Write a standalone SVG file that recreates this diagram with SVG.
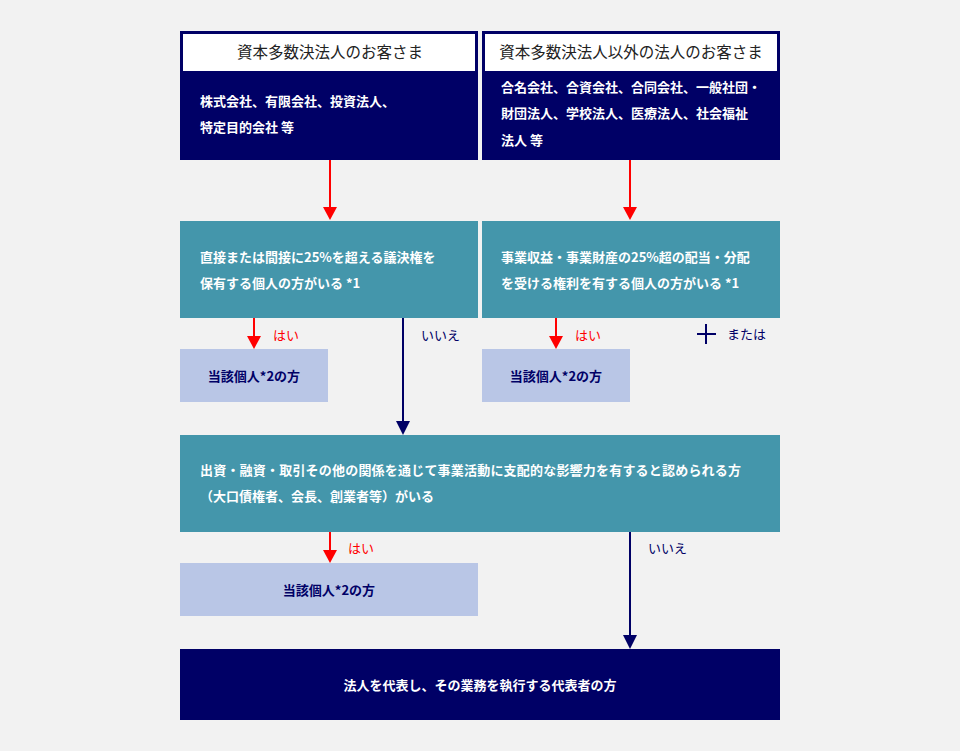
<svg xmlns="http://www.w3.org/2000/svg" width="960" height="751" viewBox="0 0 960 751">
<style>
text{font-family:"Noto Sans CJK JP","Noto Sans CJK SC",sans-serif}
.navy{fill:#000066}
.teal{fill:#4496ab}
.light{fill:#b9c6e6}
.wt{fill:#ffffff;font-size:13px;font-weight:bold}
.hd{fill:#222222;font-size:15.5px}
.nt{fill:#000066;font-size:13px;font-weight:bold}
.yes{fill:#ff0000;font-size:13px}
.no{fill:#000066;font-size:13px}
.rl{stroke:#ff0000;stroke-width:2;fill:none}
.nl{stroke:#000066;stroke-width:2;fill:none}
</style>
<rect width="960" height="751" fill="#f2f2f2"/>
<g id="connectors">
<line class="rl" x1="330" y1="160" x2="330" y2="208"/>
<path d="M323,207 L337,207 L330,220 Z" fill="#ff0000"/>
<line class="rl" x1="630" y1="160" x2="630" y2="208"/>
<path d="M623,207 L637,207 L630,220 Z" fill="#ff0000"/>
<line class="rl" x1="254" y1="318" x2="254" y2="337"/>
<path d="M247,336 L261,336 L254,349 Z" fill="#ff0000"/>
<line class="rl" x1="556" y1="318" x2="556" y2="337"/>
<path d="M549,336 L563,336 L556,349 Z" fill="#ff0000"/>
<line class="nl" x1="403" y1="318" x2="403" y2="423"/>
<path d="M396,421 L410,421 L403,435 Z" fill="#000066"/>
<line class="rl" x1="330" y1="532" x2="330" y2="551"/>
<path d="M323,550 L337,550 L330,563 Z" fill="#ff0000"/>
<line class="nl" x1="630" y1="532" x2="630" y2="637"/>
<path d="M623,635 L637,635 L630,649 Z" fill="#000066"/>
<text class="yes" x="273" y="340">はい</text>
<text class="yes" x="575" y="340">はい</text>
<text class="yes" x="348" y="553">はい</text>
<text class="no" x="421" y="340">いいえ</text>
<text class="no" x="648" y="553">いいえ</text>
<line x1="697" y1="334" x2="716" y2="334" stroke="#000066" stroke-width="2"/>
<line x1="706" y1="324" x2="706" y2="344" stroke="#000066" stroke-width="2"/>
<text class="no" x="727" y="339">または</text>
</g>
<g id="top-left">
<rect class="navy" x="180" y="31" width="298" height="129"/>
<rect x="183" y="34" width="292" height="37" fill="#ffffff"/>
<text class="hd" x="330" y="58" text-anchor="middle">資本多数決法人のお客さま</text>
<text class="wt" x="200" y="106">株式会社、有限会社、投資法人、</text>
<text class="wt" x="200" y="132">特定目的会社 等</text>
</g>
<g id="top-right">
<rect class="navy" x="482" y="31" width="298" height="129"/>
<rect x="485" y="34" width="292" height="37" fill="#ffffff"/>
<text class="hd" x="631" y="58" text-anchor="middle">資本多数決法人以外の法人のお客さま</text>
<text class="wt" x="501" y="92">合名会社、合資会社、合同会社、一般社団・</text>
<text class="wt" x="501" y="118">財団法人、学校法人、医療法人、社会福祉</text>
<text class="wt" x="501" y="145">法人 等</text>
</g>
<g id="q1">
<rect class="teal" x="180" y="221" width="298" height="97"/>
<text class="wt" x="200" y="262">直接または間接に25%を超える議決権を</text>
<text class="wt" x="200" y="288">保有する個人の方がいる *1</text>
</g>
<g id="q2">
<rect class="teal" x="482" y="221" width="298" height="97"/>
<text class="wt" x="501" y="262">事業収益・事業財産の25%超の配当・分配</text>
<text class="wt" x="501" y="288">を受ける権利を有する個人の方がいる *1</text>
</g>
<g id="r1">
<rect class="light" x="180" y="349" width="148" height="53"/>
<text class="nt" x="254" y="381" text-anchor="middle">当該個人*2の方</text>
</g>
<g id="r2">
<rect class="light" x="482" y="349" width="148" height="53"/>
<text class="nt" x="556" y="381" text-anchor="middle">当該個人*2の方</text>
</g>
<g id="q3">
<rect class="teal" x="180" y="435" width="600" height="97"/>
<text class="wt" x="200" y="475" letter-spacing="0.2">出資・融資・取引その他の関係を通じて事業活動に支配的な影響力を有すると認められる方</text>
<text class="wt" x="200" y="501">（大口債権者、会長、創業者等）がいる</text>
</g>
<g id="r3">
<rect class="light" x="180" y="563" width="298" height="53"/>
<text class="nt" x="329" y="595" text-anchor="middle">当該個人*2の方</text>
</g>
<g id="final">
<rect class="navy" x="180" y="649" width="600" height="71"/>
<text class="wt" x="480" y="690" text-anchor="middle">法人を代表し、その業務を執行する代表者の方</text>
</g>
</svg>
